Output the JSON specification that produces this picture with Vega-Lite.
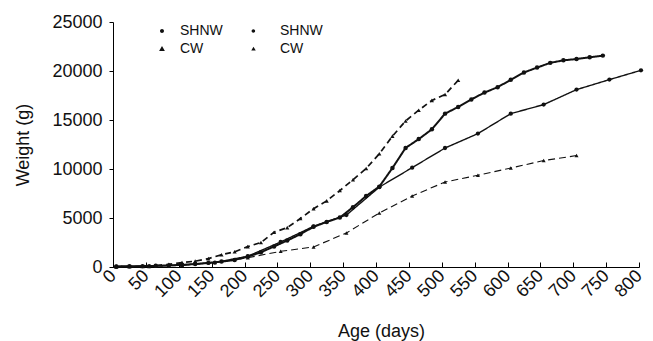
{
  "$schema": "https://vega.github.io/schema/vega-lite/v6.json",
  "autosize": "none",
  "width": 526,
  "height": 245,
  "padding": {"left": 113, "top": 22, "right": 14, "bottom": 74},
  "background": "white",
  "config": {
    "view": {"stroke": null},
    "font": "Liberation Sans",
    "axis": {"grid": false, "domainColor": "#000", "tickColor": "#000", "labelColor": "#111", "titleColor": "#111", "labelFont": "Liberation Sans", "titleFont": "Liberation Sans", "labelFontSize": 18, "titleFontSize": 18, "titleFontWeight": "normal", "domainWidth": 1, "tickWidth": 1}
  },
  "data": {
    "values": [
      {"s": "A", "d": 5, "w": 60}, {"s": "A", "d": 25, "w": 70}, {"s": "A", "d": 45, "w": 90}, {"s": "A", "d": 65, "w": 120},
      {"s": "A", "d": 85, "w": 160}, {"s": "A", "d": 105, "w": 220}, {"s": "A", "d": 125, "w": 300}, {"s": "A", "d": 145, "w": 420},
      {"s": "A", "d": 165, "w": 550}, {"s": "A", "d": 185, "w": 720}, {"s": "A", "d": 205, "w": 1050}, {"s": "A", "d": 225, "w": 1500},
      {"s": "A", "d": 245, "w": 2100}, {"s": "A", "d": 265, "w": 2700}, {"s": "A", "d": 285, "w": 3350}, {"s": "A", "d": 305, "w": 4100},
      {"s": "A", "d": 325, "w": 4600}, {"s": "A", "d": 345, "w": 5050}, {"s": "A", "d": 365, "w": 6100}, {"s": "A", "d": 385, "w": 7250},
      {"s": "A", "d": 405, "w": 8200}, {"s": "A", "d": 425, "w": 10100}, {"s": "A", "d": 445, "w": 12150}, {"s": "A", "d": 465, "w": 13050},
      {"s": "A", "d": 485, "w": 14050}, {"s": "A", "d": 505, "w": 15650}, {"s": "A", "d": 525, "w": 16330}, {"s": "A", "d": 545, "w": 17100},
      {"s": "A", "d": 565, "w": 17800}, {"s": "A", "d": 585, "w": 18350}, {"s": "A", "d": 605, "w": 19100}, {"s": "A", "d": 625, "w": 19850},
      {"s": "A", "d": 645, "w": 20350}, {"s": "A", "d": 665, "w": 20830}, {"s": "A", "d": 685, "w": 21090}, {"s": "A", "d": 705, "w": 21220},
      {"s": "A", "d": 725, "w": 21400}, {"s": "A", "d": 745, "w": 21570},
      {"s": "B", "d": 5, "w": 40}, {"s": "B", "d": 55, "w": 90}, {"s": "B", "d": 105, "w": 200}, {"s": "B", "d": 155, "w": 450},
      {"s": "B", "d": 205, "w": 1100}, {"s": "B", "d": 255, "w": 2550}, {"s": "B", "d": 305, "w": 4150}, {"s": "B", "d": 355, "w": 5300},
      {"s": "B", "d": 405, "w": 8150}, {"s": "B", "d": 455, "w": 10140}, {"s": "B", "d": 505, "w": 12140}, {"s": "B", "d": 555, "w": 13610},
      {"s": "B", "d": 605, "w": 15650}, {"s": "B", "d": 655, "w": 16570}, {"s": "B", "d": 705, "w": 18100}, {"s": "B", "d": 755, "w": 19120},
      {"s": "B", "d": 803, "w": 20070},
      {"s": "C", "d": 5, "w": 30}, {"s": "C", "d": 25, "w": 40}, {"s": "C", "d": 45, "w": 60}, {"s": "C", "d": 65, "w": 150},
      {"s": "C", "d": 85, "w": 280}, {"s": "C", "d": 105, "w": 450}, {"s": "C", "d": 125, "w": 600}, {"s": "C", "d": 145, "w": 850},
      {"s": "C", "d": 165, "w": 1250}, {"s": "C", "d": 185, "w": 1550}, {"s": "C", "d": 205, "w": 2080}, {"s": "C", "d": 225, "w": 2500},
      {"s": "C", "d": 245, "w": 3550}, {"s": "C", "d": 265, "w": 4020}, {"s": "C", "d": 285, "w": 4950}, {"s": "C", "d": 305, "w": 5950},
      {"s": "C", "d": 325, "w": 6750}, {"s": "C", "d": 345, "w": 7800}, {"s": "C", "d": 365, "w": 8900}, {"s": "C", "d": 385, "w": 10050},
      {"s": "C", "d": 405, "w": 11550}, {"s": "C", "d": 425, "w": 13350}, {"s": "C", "d": 445, "w": 14900}, {"s": "C", "d": 465, "w": 16000},
      {"s": "C", "d": 485, "w": 17000}, {"s": "C", "d": 505, "w": 17600}, {"s": "C", "d": 525, "w": 19050},
      {"s": "D", "d": 5, "w": 20}, {"s": "D", "d": 55, "w": 60}, {"s": "D", "d": 105, "w": 180}, {"s": "D", "d": 155, "w": 450},
      {"s": "D", "d": 205, "w": 950}, {"s": "D", "d": 255, "w": 1600}, {"s": "D", "d": 305, "w": 2050}, {"s": "D", "d": 355, "w": 3470},
      {"s": "D", "d": 405, "w": 5510}, {"s": "D", "d": 455, "w": 7245}, {"s": "D", "d": 505, "w": 8670}, {"s": "D", "d": 555, "w": 9360},
      {"s": "D", "d": 605, "w": 10100}, {"s": "D", "d": 655, "w": 10860}, {"s": "D", "d": 705, "w": 11370}
    ]
  },
  "encoding": {
    "x": {
      "field": "d", "type": "quantitative",
      "scale": {"domain": [0, 800], "nice": false, "zero": true},
      "axis": {"title": "Age (days)", "values": [0,50,100,150,200,250,300,350,400,450,500,550,600,650,700,750,800], "labelAngle": -45, "labelAlign": "right", "labelBaseline": "middle", "tickSize": -5, "labelPadding": 11, "labelFlush": false, "labelOverlap": false, "titleX": 268, "titleY": 69, "titleBaseline": "alphabetic", "titleAlign": "center"}
    },
    "y": {
      "field": "w", "type": "quantitative",
      "scale": {"domain": [0, 25000], "nice": false},
      "axis": {"title": "Weight (g)", "values": [0,5000,10000,15000,20000,25000], "format": "d", "tickSize": 4, "labelPadding": 7, "labelFlush": false, "titleX": -90, "titleY": 122.5, "titleAngle": -90, "titleAlign": "center", "titleBaseline": "middle"}
    }
  },
  "resolve": {"scale": {"shape": "independent", "size": "independent"}},
  "layer": [
    {
      "mark": {"type": "line", "color": "#111"},
      "encoding": {
        "detail": {"field": "s"},
        "strokeWidth": {"field": "s", "type": "nominal", "scale": {"domain": ["A","C","B","D"], "range": [2, 1.1, 1.8, 1]}, "legend": null},
        "strokeDash": {"field": "s", "type": "nominal", "scale": {"domain": ["A","C","B","D"], "range": [[1,0],[6,4],[1,0],[7,4]]}, "legend": null}
      }
    },
    {
      "mark": {"type": "point", "filled": true, "color": "#111", "opacity": 1},
      "encoding": {
        "shape": {"field": "s", "type": "nominal", "scale": {"domain": ["A","B","C","D"], "range": ["circle","circle","triangle-up","triangle-up"]}, "legend": null},
        "size": {"field": "s", "type": "nominal", "scale": {"domain": ["A","B","C","D"], "range": [20, 16, 50, 22]}, "legend": null}
      }
    },
    {
      "mark": {"type": "point", "filled": true, "color": "#111", "opacity": 0},
      "encoding": {
        "shape": {
          "field": "s", "type": "nominal",
          "scale": {"domain": ["A","C","B","D"], "range": [
            "M-2.125,0L2,0M-0.25,0A0.25,0.25 0 1,0 0.25,0A0.25,0.25 0 1,0 -0.25,0Z",
            "M-2.125,0L-1.6875,0M-1.3125,0L-0.875,0M-0.5,0L0.5,0M0.875,0L1.3125,0M1.6875,0L2.125,0M0,-0.36L0.36,0.26L-0.36,0.26Z",
            "M-3.125,0L1,0M-1.3,0A0.22,0.22 0 1,0 -0.86,0A0.22,0.22 0 1,0 -1.3,0Z",
            "M-3.125,0L-2.6875,0M-2.3125,0L-1.875,0M-1.5,0L-0.625,0M-0.25,0L0.1875,0M0.5625,0L1,0M-1.0625,-0.28L-0.7825,0.2L-1.3425,0.2Z"
          ]},
          "legend": {
            "orient": "none", "legendX": 40, "legendY": 0, "columns": 2, "columnPadding": 11, "rowPadding": 2,
            "title": null, "padding": 0, "symbolSize": 256, "symbolOpacity": 1, "symbolFillColor": "#111", "symbolStrokeColor": "#111", "symbolStrokeWidth": 1.5,
            "labelFontSize": 14, "labelFont": "Liberation Sans", "labelColor": "#111", "labelOffset": 9,
            "labelExpr": "datum.value == 'A' || datum.value == 'B' ? 'SHNW' : 'CW'"
          }
        }
      }
    }
  ]
}
